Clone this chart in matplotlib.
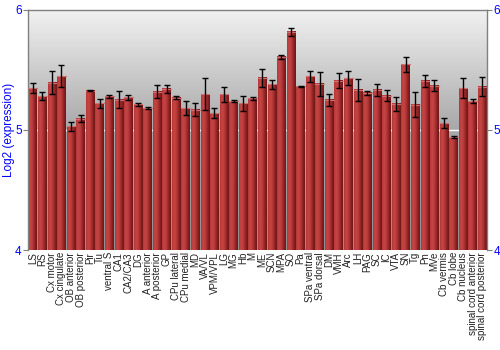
import numpy as np
import matplotlib
matplotlib.use("Agg")
import matplotlib.pyplot as plt
from matplotlib.colors import LinearSegmentedColormap

plt.rcParams['font.family'] = ['Liberation Sans', 'DejaVu Sans']

regions = ["LS", "RS", "Cx motor", "Cx cingulate", "OB anterior", "OB posterior", "Pir", "Tu",
           "ventral S", "CA1", "CA2/CA3", "DG", "A anterior", "A posterior", "GP", "CPu lateral",
           "CPu medial", "MD", "VA/VL", "VPM/VPL", "LG", "MG", "Hb", "M", "ME", "SCN", "MPA", "SO",
           "Pa", "SPa ventral", "SPa dorsal", "DM", "VMH", "Arc", "LH", "PAG", "SC", "IC", "VTA",
           "SN", "Tg", "Pn", "MVe", "Cb vermis", "Cb lobe", "Cb nucleus", "spinal cord anterior",
           "spinal cord posterior"]
values = [5.347, 5.278, 5.392, 5.447, 5.028, 5.092, 5.325, 5.219,
          5.278, 5.250, 5.269, 5.211, 5.181, 5.317, 5.342, 5.267,
          5.181, 5.167, 5.294, 5.136, 5.294, 5.236, 5.219, 5.261, 5.433, 5.378, 5.606, 5.814,
          5.361, 5.444, 5.381, 5.250, 5.408, 5.428, 5.333, 5.306, 5.331, 5.283, 5.217,
          5.544, 5.208, 5.406, 5.367, 5.056, 4.939, 5.347, 5.239, 5.358]
errors = [0.043, 0.033, 0.094, 0.090, 0.040, 0.030, 0.005, 0.040,
          0.014, 0.072, 0.020, 0.015, 0.008, 0.055, 0.033, 0.015,
          0.062, 0.054, 0.133, 0.042, 0.061, 0.008, 0.061, 0.015, 0.076, 0.035, 0.017, 0.030,
          0.004, 0.046, 0.100, 0.049, 0.061, 0.058, 0.090, 0.014, 0.049, 0.047, 0.057,
          0.064, 0.103, 0.047, 0.043, 0.044, 0.010, 0.083, 0.020, 0.079]
yticks = [4, 5, 6]

fig = plt.figure(figsize=(5, 3.5), dpi=100)
ax = fig.add_axes([0.056, 0.2857, 0.918, 0.687])
ymin, ymax = 4, 6
n = len(regions)
x = np.arange(n)
width = 0.9

# background gradient (top light, bottom darker)
bg = np.linspace(0, 1, 256).reshape(-1, 1)
bg_cmap = LinearSegmentedColormap.from_list("bg", ["#f2f2f2", "#a8a8a8", "#909090"])
ax.imshow(bg, aspect="auto", cmap=bg_cmap, origin="upper",
          extent=[-0.5, n - 0.5, ymin, ymax], zorder=0, interpolation="bilinear")
ax.axhline(5, color="white", lw=1, zorder=1)

# bars with horizontal gradient
bar_cmap = LinearSegmentedColormap.from_list(
    "bar", ["#b23838", "#c64646", "#b83a3a", "#922424", "#6e1616"])
grad = np.linspace(0, 1, 64).reshape(1, -1)
for xi, v in zip(x, values):
    ax.imshow(grad, aspect="auto", cmap=bar_cmap, interpolation="bilinear",
              extent=[xi - width / 2, xi + width / 2, ymin, v], zorder=2)
    ax.plot([xi - width / 2, xi + width / 2], [v, v], color="#d07070", lw=0.8, zorder=3)

ax.errorbar(x, values, yerr=errors, fmt="none", ecolor="black", elinewidth=1,
            capsize=2, capthick=1, zorder=4)

ax.set_xlim(-0.5, n - 0.5)
ax.set_ylim(ymin, ymax)

ax.set_xticks(x)
ax.set_xticklabels(regions, rotation=90, fontsize=7, color="#222222")
ax.tick_params(axis="x", length=0, pad=1.5)

ax.set_yticks(yticks)
ax.set_yticklabels([str(t) for t in yticks], fontsize=8.5, color="blue")
ax.tick_params(axis="y", length=3.5, color="#808080", labelcolor="blue", pad=1,
               left=True, right=True, labelleft=True, labelright=True)
ax.set_ylabel("Log2 (expression)", color="blue", fontsize=8.5)
ax.yaxis.set_label_coords(-0.028, 0.5)

for s in ["left", "top", "right"]:
    ax.spines[s].set_color("#808080")
    ax.spines[s].set_linewidth(1)
ax.spines["bottom"].set_visible(False)

fig.savefig("out.png", dpi=100)
